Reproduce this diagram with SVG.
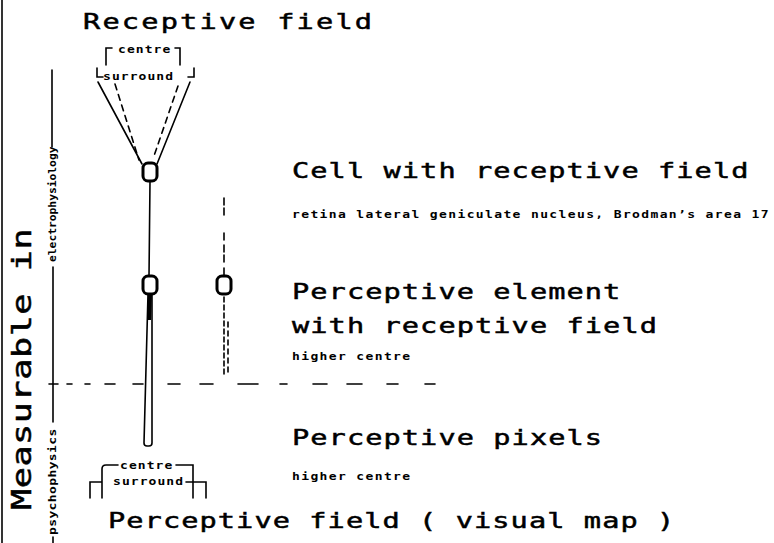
<svg xmlns="http://www.w3.org/2000/svg" width="774" height="543" viewBox="0 0 774 543">
<style>
.big{font-family:"DejaVu Sans Mono","Liberation Mono",monospace;font-size:22px;letter-spacing:0.84px;fill:#000;stroke:#000;stroke-width:0.5}
.small{font-family:"DejaVu Sans Mono","Liberation Mono",monospace;font-size:10px;font-weight:bold;letter-spacing:1.06px;fill:#000}
.ln{stroke:#000;stroke-width:1.6;fill:none;stroke-linecap:round}
.node{fill:#fff;stroke:#000;stroke-width:3}
</style>
<rect width="774" height="543" fill="#fff"/>
<g id="axis">
<path class="ln" d="M2,0V543"/>
<path class="ln" d="M52,70V147 M53,267V422 M53,537V543 M49,384H58"/>
<text class="big" transform="translate(31,510) rotate(-90) scale(1.3,1)" style="font-size:27px;letter-spacing:0.45px">Measurable in</text>
<text class="small" transform="translate(56,262) rotate(-90) scale(1.13,1)" style="letter-spacing:0px">electrophysiology</text>
<text class="small" transform="translate(56,535) rotate(-90) scale(1.3,1)" style="letter-spacing:0.3px">psychophysics</text>
</g>
<g id="connectors">
<path class="ln" d="M98,82L142,164 M190,82L157,164"/>
<path class="ln" d="M115,84L139,160 M178,86L154,156" stroke-dasharray="6 5"/>
<path class="ln" d="M150,181L149,277"/>
<path d="M148,294L152,294L152,443Q152,446 149,446L147,446Q144,446 144,443Z" fill="#fff" stroke="#000" stroke-width="1.6"/>
<path d="M148,294L152,294L151,320L148,320Z" fill="#000"/>
<path class="ln" d="M224,198V205 M224,208V215 M224,233V240 M224,245V252 M224,255V262 M224,268V276"/>
<path class="ln" d="M224,297V376" stroke-dasharray="5 3"/>
<path class="ln" d="M228,322V376" stroke-dasharray="5 4"/>
<path class="ln" d="M67,384H72 M85,384H90 M105,384H115 M133,384H143 M168,384H180 M200,384H213 M238,384H258 M280,384H287 M313,384H327 M347,384H362 M387,384H398 M425,384H435"/>
</g>
<g id="receptive-field">
<text class="big" transform="translate(83,29) scale(1.3,1)" style="letter-spacing:1.7px">Receptive field</text>
<path class="ln" d="M112,48H106V65 M175,48H180V65 M97,68V77H103 M188,77H194V68"/>
<text class="small" transform="translate(118,53) scale(1.3,1)" style="letter-spacing:0.83px">centre</text>
<text class="small" transform="translate(103,80) scale(1.3,1)" style="letter-spacing:0.83px">surround</text>
</g>
<g id="cell-node">
<rect class="node" x="143" y="163" width="14" height="18" rx="5"/>
<text class="big" transform="translate(292,178) scale(1.3,1)">Cell with receptive field</text>
<text class="small" transform="translate(292,218) scale(1.3,1)">retina lateral geniculate nucleus, Brodman’s area 17</text>
</g>
<g id="perceptive-element">
<rect class="node" x="143" y="276" width="14" height="18" rx="5"/>
<rect class="node" x="217" y="276" width="14" height="18" rx="5"/>
<text class="big" transform="translate(292,299) scale(1.3,1)">Perceptive element</text>
<text class="big" transform="translate(292,333) scale(1.3,1)">with receptive field</text>
<text class="small" transform="translate(292,360) scale(1.3,1)">higher centre</text>
</g>
<g id="perceptive-pixels">
<text class="big" transform="translate(292,445) scale(1.3,1)">Perceptive pixels</text>
<text class="small" transform="translate(292,480) scale(1.3,1)">higher centre</text>
</g>
<g id="perceptive-field">
<path class="ln" d="M118,465H106Q102,465 102,469V498 M176,465H193V498 M90,498V482H102 M186,482H206V498"/>
<text class="small" transform="translate(120,469) scale(1.3,1)" style="letter-spacing:0.83px">centre</text>
<text class="small" transform="translate(113,485) scale(1.3,1)" style="letter-spacing:0.83px">surround</text>
<text class="big" transform="translate(108,528) scale(1.3,1)">Perceptive field ( visual map )</text>
</g>
</svg>
